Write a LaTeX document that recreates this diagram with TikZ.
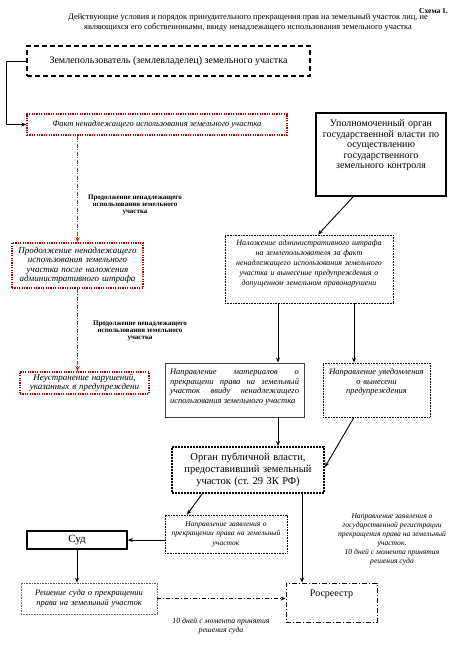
\documentclass[tikz,border=0pt]{standalone}
\usepackage{fontspec}
\setmainfont{Liberation Serif}
\usetikzlibrary{arrows.meta}

\definecolor{fred}{RGB}{165,0,0}
\definecolor{lred}{RGB}{215,25,25}
\newcommand{\fs}[2]{\fontsize{#1}{#2}\selectfont}
\frenchspacing
\tikzset{
  box/.style={rectangle,inner sep=0pt,align=center},
  arr/.style={-{Stealth[length=5pt,width=4pt]},line width=0.9pt},
  redbox/.style={box,draw=fred,line width=1.6pt,dash pattern=on 1.2pt off 1.2pt},
  dotbox/.style={box,draw=black,line width=0.6pt,dash pattern=on 0.8pt off 0.8pt},
  reddash/.style={draw=lred,line width=0.8pt,dash pattern=on 4pt off 1.5pt on 1pt off 1.5pt},
  lbl/.style={align=center,inner sep=0pt},
  itx/.style={font=\fs{#1}{9.5}\itshape},
}

\begin{document}
\begin{tikzpicture}[x=1pt,y=-1pt]
\useasboundingbox (0,0) rectangle (450,649);
\node[lbl,anchor=east,font=\fs{7.5}{9}\bfseries] (schema) at (448,11) {Схема 1.};
\node[lbl,font=\fs{8.4}{9.5}] (title) at (248,22.5) {Действующие условия и порядок принудительного прекращения прав на земельный участок лиц, не\\являющихся его собственниками, ввиду ненадлежащего использования земельного участка};

\node[box,draw,line width=1.8pt,dash pattern=on 5pt off 3pt,minimum width=283pt,minimum height=30pt,font=\fs{10}{12}] (user) at (168.5,61) {Землепользователь (землевладелец) земельного участка};
\node[redbox,minimum width=260pt,minimum height=21pt,itx=8.5] (fact) at (157,124.5) {Факт ненадлежащего использования земельного участка};
\node[redbox,minimum width=131pt,minimum height=45pt,text width=125pt,font=\fs{9}{9.5}\itshape] (cont) at (77.5,265.5) {Продолжение ненадлежащего\\использования земельного\\участка после наложения\\административного штрафа};
\node[redbox,minimum width=129pt,minimum height=22pt,text width=125pt,font=\fs{9}{9}\itshape] (fail) at (84.5,383) {Неустранение нарушений,\\указанных в предупреждени};

\node[box,draw,line width=2pt,minimum width=130pt,minimum height=83pt,text width=124pt,text depth=62pt,font=\fs{10}{10.5}] (auth) at (381,154.5) {Уполномоченный орган\\государственной власти по\\осуществлению\\государственного\\земельного контроля};
\node[dotbox,minimum width=168pt,minimum height=68pt,text width=162pt,text depth=53pt,font=\fs{8}{10}\itshape] (fine) at (309,269) {Наложение административного штрафа\\на землепользователя за факт\\ненадлежащего использования земельного\\участка и вынесение предупреждения о\\допущенном земельном правонарушени};
\node[box,draw=black!75,line width=1pt,minimum width=139pt,minimum height=54pt,text width=129pt,align=justify,text depth=36pt,itx=8.5] (mat) at (234.5,390) {Направление материалов о\linebreak прекращени права на земельный\linebreak участок ввиду ненадлежащего\linebreak использования земельного участка};
\node[dotbox,minimum width=107pt,minimum height=54pt,text width=100pt,text depth=36pt,itx=8.5] (note) at (376.5,390) {Направление уведомления\\о вынесени\\предупреждения};
\node[box,draw,line width=2pt,dash pattern=on 1.6pt off 1.4pt,minimum width=152pt,minimum height=46pt,text width=146pt,font=\fs{10.5}{12}] (pub) at (248,470) {Орган публичной власти,\\предоставивший земельный\\участок (ст. 29 ЗК РФ)};
\node[dotbox,minimum width=122pt,minimum height=38pt,text width=118pt,itx=7.5] (appl) at (226,534) {Направление заявления о\\прекращении права на земельный\\участок};
\node[box,draw,line width=1.5pt,minimum width=100pt,minimum height=18pt,font=\fs{11}{12}] (court) at (77,540) {Суд};
\node[dotbox,draw=black!60,minimum width=136pt,minimum height=31pt,text width=130pt,itx=8.5] (dec) at (89,598.5) {Решение суда о прекращении\\права на земельный участок};
\node[box,draw,line width=0.8pt,dash pattern=on 5pt off 2pt on 1pt off 2pt,minimum width=91pt,minimum height=39pt,text depth=19pt,font=\fs{10}{12}] (ros) at (331.5,602.5) {Росреестр};

\node[lbl,font=\fs{7}{7}\bfseries] (cont1) at (135,205) {Продолжение ненадлежащего\\использования земельного\\участка};
\node[lbl,font=\fs{7}{7}\bfseries] (cont2) at (140,331) {Продолжение ненадлежащего\\использования земельного\\участка};
\node[lbl,font=\fs{7.6}{9}\itshape] (reg) at (392,539) {Направление заявления о\\государственной регистрации\\прекращения права на земельный\\участок.\\10 дней с момента принятия\\решения суда};
\node[lbl,font=\fs{7.8}{8.8}\itshape] (days) at (221,626) {10 дней с момента принятия\\решения суда};

\draw[arr] (user.west) -- ++(-20,0) |- (fact.west);
\draw[arr,reddash] (cont.north |- fact.south) -- (cont.north);
\draw[arr,reddash] (cont.south) -- (cont.south |- fail.north);
\draw[arr] ([xshift=-28pt]auth.south) -- ([xshift=9pt]fine.north);
\draw[arr] ([xshift=-31pt]fine.south) -- ([xshift=-31pt]fine.south |- mat.north);
\draw[arr] ([xshift=45pt]fine.south) -- ([xshift=45pt]fine.south |- note.north);
\draw[arr] ([xshift=43.5pt]mat.south) -- ([xshift=43.5pt]mat.south |- pub.north);
\draw[arr] ([xshift=-22.5pt]note.south) -- ([yshift=3pt]pub.east);
\draw[arr] ([xshift=-46pt]pub.south) -- ([xshift=-39pt]appl.north);
\draw[arr] ([xshift=54pt]pub.south) -- ([xshift=54pt]pub.south |- ros.north);
\draw[arr] (appl.west |- court.east) -- (court.east);
\draw[arr] (court.south) -- (court.south |- dec.north);
\draw[arr,line width=0.6pt,dash pattern=on 4pt off 2pt on 1pt off 2pt] (dec.east) -- (dec.east -| ros.west);
\end{tikzpicture}
\end{document}
